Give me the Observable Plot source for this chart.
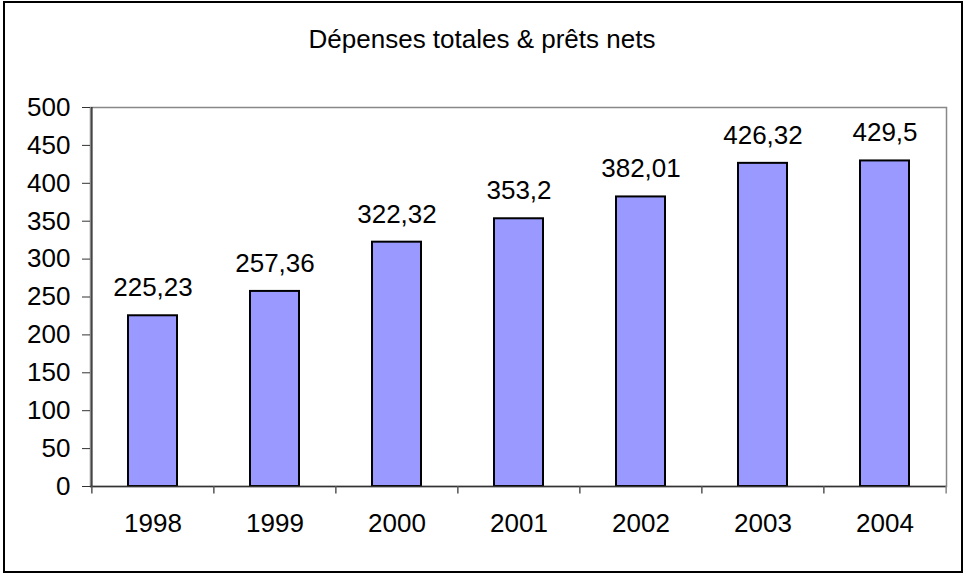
<!DOCTYPE html>
<html>
<head>
<meta charset="utf-8">
<script src="https://cdn.jsdelivr.net/npm/d3@7"></script>
<script src="https://cdn.jsdelivr.net/npm/@observablehq/plot@0.6"></script>
<style>
  html, body { margin: 0; padding: 0; background: #fff; }
  #wrap { position: relative; width: 964px; height: 574px; overflow: hidden; font-family: "Liberation Sans", Arial, sans-serif; }
  #border { position: absolute; left: 3px; top: 1px; width: 960px; height: 572px; box-sizing: border-box; border: 2px solid #000; pointer-events: none; z-index: 2; }
  #title { height: 60px; box-sizing: border-box; padding-top: 24px; line-height: 30px; font-size: 26px; text-align: center; color: #000; }
  #chart svg { display: block; }
</style>
</head>
<body>
<div id="wrap">
  <div id="border"></div>
  <div id="title">Dépenses totales &amp; prêts nets</div>
  <div id="chart"></div>
</div>
<script>
const years = ["1998", "1999", "2000", "2001", "2002", "2003", "2004"];
const values = [225.23, 257.36, 322.32, 353.2, 382.01, 426.32, 429.5];
const yTicks = [0, 50, 100, 150, 200, 250, 300, 350, 400, 450, 500];
const titleText = "Dépenses totales & prêts nets";

const data = years.map((year, i) => ({year, value: values[i]}));
const fmt = v => String(v).replace(".", ",");

const W = 964, H = 514, ML = 90, MR = 18, MT = 47, MB = 88;
const step = (W - ML - MR) / years.length;

const chart = Plot.plot({
  width: W,
  height: H,
  marginLeft: ML,
  marginRight: MR,
  marginTop: MT,
  marginBottom: MB,
  style: {fontFamily: "'Liberation Sans', Arial, sans-serif", fontSize: "26px", color: "#000", background: "transparent"},
  x: {domain: years, paddingInner: 0.6, paddingOuter: 0.3, label: null},
  y: {domain: [0, 500], label: null},
  marks: [
    Plot.frame({stroke: "#888", strokeWidth: 1.5}),
    Plot.barY(data, {x: "year", y: "value", fill: "#9999FF", stroke: "#000", strokeWidth: 2}),
    Plot.ruleY([0], {stroke: "#333", strokeWidth: 1.5}),
    Plot.ruleX([years[0]], {x: d => d, y1: 0, y2: 500, dx: -step / 2, stroke: "#333", strokeWidth: 1.5}),
    Plot.ruleX(years, {x: d => d, y1: 0, y2: -10, dx: -step / 2, stroke: "#555", strokeWidth: 1.5}),
    Plot.ruleX([years[years.length - 1]], {x: d => d, y1: 0, y2: -10, dx: step / 2, stroke: "#888", strokeWidth: 1.5}),
    Plot.axisY({ticks: yTicks, tickSize: 8, tickPadding: 12, tickFormat: d => String(d), stroke: "#333", label: null}),
    Plot.axisX({tickSize: 0, tickPadding: 27, label: null}),
    Plot.text(data, {x: "year", y: "value", text: d => fmt(d.value), dy: -28, lineAnchor: "middle", fill: "#000"})
  ]
});
document.getElementById("chart").appendChild(chart);
</script>
</body>
</html>
